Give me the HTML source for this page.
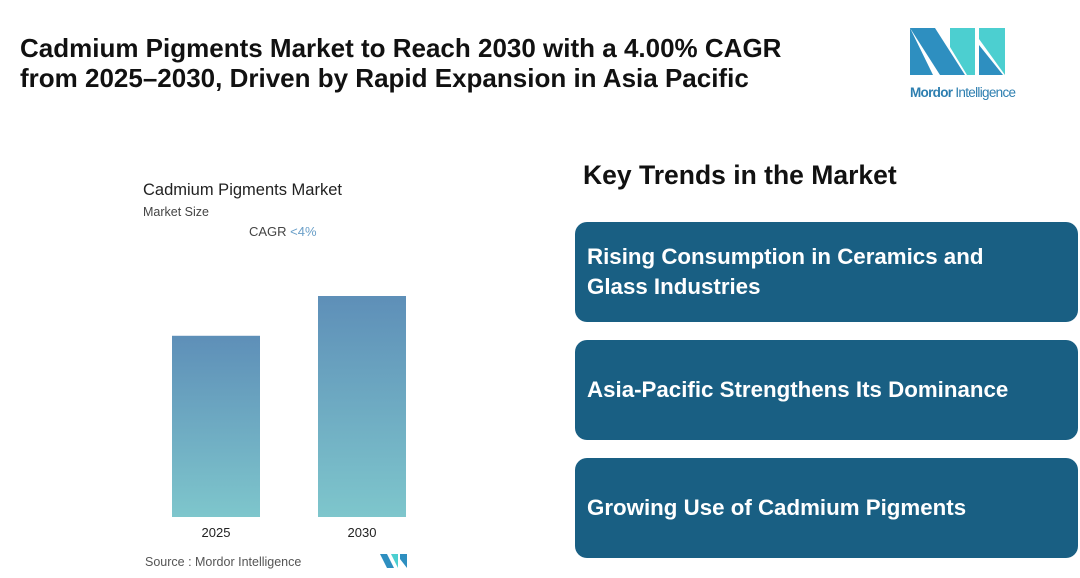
<!DOCTYPE html>
<html><head><meta charset="utf-8">
<style>
body{margin:0;width:1080px;height:578px;background:#fff;font-family:"Liberation Sans",sans-serif;position:relative;overflow:hidden}
.abs{position:absolute}
.card{position:absolute;left:575px;width:503px;height:100px;background:#195f83;border-radius:12px;color:#fff;font-weight:bold;font-size:22.3px;line-height:30px;display:flex;align-items:center;padding-left:12px;box-sizing:border-box}
</style></head><body>
<div class="abs" style="left:20px;top:33px;font-size:26px;font-weight:bold;line-height:30px;color:#111;white-space:nowrap">Cadmium Pigments Market to Reach 2030 with a 4.00% CAGR<br>from 2025–2030, Driven by Rapid Expansion in Asia Pacific</div>
<svg class="abs" style="left:905px;top:25px" width="140" height="80">
<polygon points="5,3 30,3 60,50 35,50" fill="#2e8fc0"/><polygon points="5,3 5,50 28,50" fill="#2e8fc0"/>
<polygon points="45,3 70,3 70,50 62,50 45,22" fill="#4ccfd0"/><polygon points="74,3 100,3 100,50 74,14" fill="#4ccfd0"/><polygon points="74,20 98,50 74,50" fill="#2e8fc0"/>
<text x="5" y="72" font-size="13.5" fill="#2e7fb0" font-family="Liberation Sans" textLength="106"><tspan font-weight="bold">Mordor</tspan> Intelligence</text>
</svg>
<div class="abs" style="left:143px;top:181px;font-size:16.5px;color:#222">Cadmium Pigments Market</div>
<div class="abs" style="left:143px;top:205px;font-size:12.5px;color:#444">Market Size</div>
<div class="abs" style="left:249px;top:224px;font-size:13px;color:#444">CAGR <span style="color:#6a9fc8">&lt;4%</span></div>
<svg class="abs" id="chart" style="left:0;top:0" width="540" height="578">
<defs><linearGradient id="g" x1="0" y1="0" x2="0" y2="1"><stop offset="0" stop-color="#5e8fb8"/><stop offset="1" stop-color="#7ec6cc"/></linearGradient></defs>
</svg>
<div class="abs" style="left:145px;top:555px;font-size:12.5px;color:#555">Source :  Mordor Intelligence</div>
<svg class="abs" style="left:380px;top:553px" width="28" height="16">
<polygon points="0,1 7,1 14,15 7,15" fill="#2e8fc0"/><polygon points="11,1 18,1 18,15" fill="#4ccfd0"/><polygon points="20,1 27,1 27,15 20,6" fill="#2e8fc0"/></svg>
<div class="abs" style="left:583px;top:160px;font-size:26.5px;font-weight:bold;color:#111">Key Trends in the Market</div>
<div class="card" style="top:222px">Rising Consumption in Ceramics and<br>Glass Industries</div>
<div class="card" style="top:340px">Asia-Pacific Strengthens Its Dominance</div>
<div class="card" style="top:458px">Growing Use of Cadmium Pigments</div>
<script>
const categories=["2025","2030"];
const values=[0.82,1.0];
const svg=document.getElementById('chart');
const ns="http://www.w3.org/2000/svg";
const base=517,maxH=221,x0=172,step=146,bw=88;
function y(v){return base-v*maxH;}
categories.forEach((c,i)=>{
 const r=document.createElementNS(ns,'rect');
 r.setAttribute('x',x0+i*step);r.setAttribute('y',y(values[i]));
 r.setAttribute('width',bw);r.setAttribute('height',base-y(values[i]));
 r.setAttribute('fill','url(#g)');
 
 
 svg.appendChild(r);
 const t=document.createElementNS(ns,'text');
 t.setAttribute('x',x0+i*step+bw/2);t.setAttribute('y',537);
 t.setAttribute('text-anchor','middle');t.setAttribute('font-size','13');t.setAttribute('fill','#222');
 t.setAttribute('font-family','Liberation Sans');
 t.textContent=c;
 
 
 svg.appendChild(t);
});
</script>
</body></html>
